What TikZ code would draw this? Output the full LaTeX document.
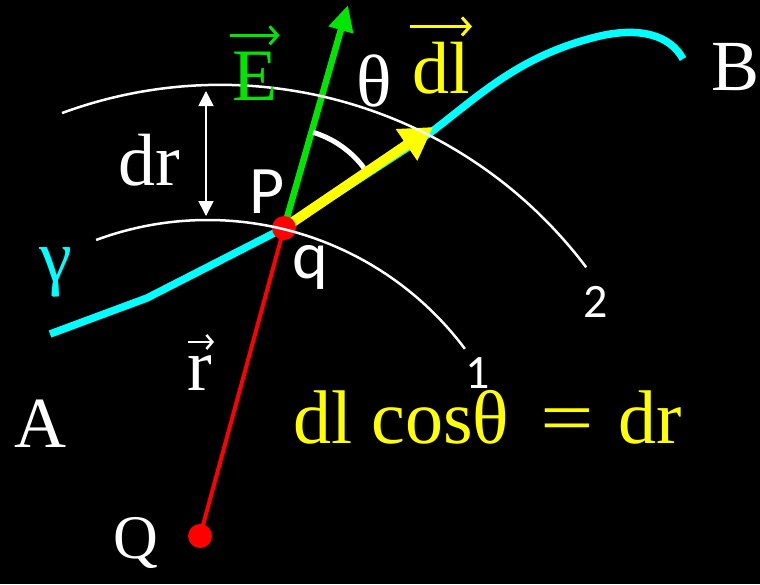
\documentclass[tikz,border=0pt]{standalone}
\usepackage{fontspec}
\setmainfont{Liberation Serif}
\newfontfamily\calib{Carlito}
\usetikzlibrary{arrows.meta}
\definecolor{curvecyan}{RGB}{0,255,255}
\definecolor{fieldgreen}{RGB}{0,230,0}
\definecolor{dotred}{RGB}{255,0,0}
\definecolor{pathyellow}{RGB}{255,255,0}
\tikzset{
  lab/.style={font=\fontsize{74}{80}\selectfont,text=white,inner sep=0pt},
  labsans/.style={font=\calib\fontsize{68}{72}\selectfont,text=white,inner sep=0pt},
  idx/.style={font=\calib\fontsize{48}{52}\selectfont,text=white,inner sep=0pt},
  dot/.style={circle,fill=dotred,minimum size=24pt,inner sep=0pt},
  shell/.style={draw=white,line width=2.5pt},
  vecbar/.style={line width=3pt,-{Straight Barb[length=8pt,width=18pt]}},
}

\begin{document}
\begin{tikzpicture}[x=1pt,y=-1pt]
  \fill[black] (0,0) rectangle (760,584);
  \useasboundingbox (0,0) rectangle (760,584);
  \coordinate (P) at (284,228);
  \coordinate (Q) at (200,536);
  \coordinate (Etip) at (348,5);
  \coordinate (dltip) at (433,127);
  \coordinate (drtop) at (206,91);
  \coordinate (drbot) at (206,216);
  % path gamma from A to B
  \draw[curvecyan,line width=7.5pt,line join=round] (50,334) -- (147,298) -- (P) -- (430,133)
    .. controls (480,95) and (520,55) .. (600,36) .. controls (640,27) and (670,35) .. (683,59);
  % r, E and dl
  \draw[dotred,line width=4pt] (Q) -- (P);
  \draw[fieldgreen,line width=6.5pt,-{Triangle[length=26pt,width=24pt]}] (P) -- (Etip);
  \draw[pathyellow,line width=10pt,-{Triangle[length=32pt,width=36pt]}] (P) -- (dltip);
  \node[dot] (Pdot) at (P) {};
  \node[dot] (Qdot) at (Q) {};
  \draw[white,line width=5pt] (P) ++(-73:100) arc[start angle=-73,end angle=-37,radius=100];
  % equipotential shells 1 and 2
  \draw[shell] (207.6,541.3) ++(-110.3:321.3) arc[start angle=-110.3,end angle=-36.8,radius=321.3];
  \draw[shell] (220.25,543.05) ++(-110.2:458.2) arc[start angle=-110.2,end angle=-37.0,radius=458.2];
  \draw[white,line width=1.5pt,{Triangle[length=15pt,width=15pt]}-{Triangle[length=15pt,width=15pt]}] (drbot) -- (drtop);
  % labels
  \node[lab,anchor=base west,font=\fontsize{72}{76}\selectfont] (A) at (14,447) {A};
  \node[lab,anchor=base west,font=\fontsize{72}{76}\selectfont] (B) at (711,90) {B};
  \node[lab,anchor=base west,font=\fontsize{62}{66}\selectfont] (Qlab) at (113,558) {Q};
  \node[lab,anchor=base west] (dr) at (118,185) {dr};
  \node[labsans,anchor=base west] (Plab) at (249,213) {P};
  \node[labsans,anchor=base west] (qlab) at (292,278) {q};
  \node[lab,text=curvecyan] (gamma) at (56,272) {γ};
  \node[lab,anchor=base west] (theta) at (356,106) {θ};
  \node[lab,text=fieldgreen,anchor=base west] (E) at (232,100) {E};
  \node[lab,text=pathyellow,anchor=base west] (dl) at (412,93) {dl};
  \node[lab,anchor=base west] (r) at (187,390) {r};
  \draw[vecbar,fieldgreen] ([xshift=-2pt,yshift=16pt]E.north west) -- ([xshift=2pt,yshift=16pt]E.north east);
  \draw[vecbar,pathyellow] ([xshift=-2pt,yshift=15pt]dl.north west) -- ([xshift=2pt,yshift=15pt]dl.north east);
  \draw[vecbar,white,line width=2.5pt,-{Straight Barb[length=6pt,width=14pt]}] ([xshift=1pt,yshift=13pt]r.north west) -- ([xshift=2pt,yshift=13pt]r.north east);
  \node[idx,anchor=base west] (one) at (465,388) {1};
  \node[idx,anchor=base west] (two) at (583,317) {2};
  \node[lab,text=pathyellow,anchor=base west,font=\fontsize{76}{80}\selectfont] (law) at (293,443)
    {dl cosθ\hspace{31pt}\scalebox{1.25}[1]{=}\hspace{25pt}dr};
\end{tikzpicture}
\end{document}
